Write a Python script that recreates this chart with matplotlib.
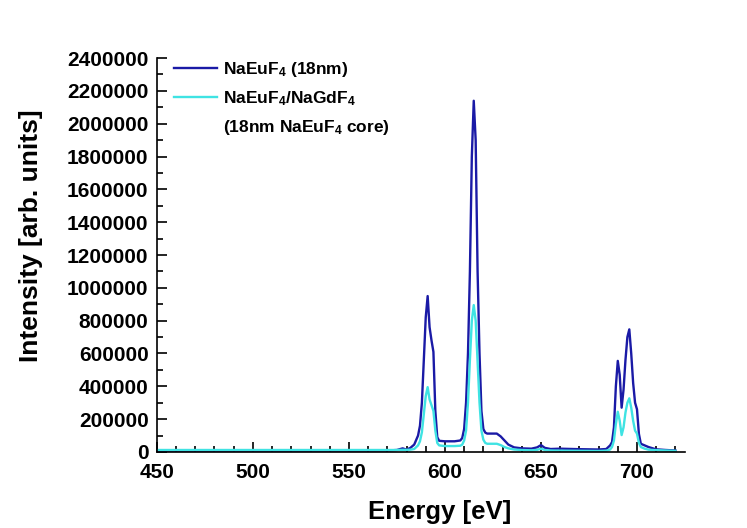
import matplotlib.pyplot as plt
from matplotlib.lines import Line2D
from matplotlib.ticker import MultipleLocator, FormatStrFormatter

plt.rcParams['font.family'] = 'Liberation Sans'
plt.rcParams['font.weight'] = 'bold'
plt.rcParams['mathtext.fontset'] = 'custom'
plt.rcParams['mathtext.rm'] = 'Liberation Sans:bold'
plt.rcParams['mathtext.bf'] = 'Liberation Sans:bold'
plt.rcParams['mathtext.default'] = 'rm'

# emission spectra
energy = [450, 500, 550, 570, 575, 578, 580, 582, 584, 586, 587, 588, 589, 590,
          591, 592, 593, 594, 595, 596, 597, 600, 605, 608, 609, 610, 611, 612,
          613, 614, 615, 616, 617, 618, 619, 620, 621, 622, 627, 629, 631, 633,
          636, 640, 645, 648, 650, 652, 655, 660, 670, 680, 684, 686, 687, 688,
          689, 690, 691, 692, 693, 694, 695, 696, 697, 698, 699, 700, 701, 702,
          704, 706, 710, 715, 720]
core = [8000, 8000, 8000, 9000, 12000, 22000, 14000, 25000, 45000, 100000,
        160000, 300000, 560000, 820000, 950000, 760000, 680000, 610000, 250000,
        90000, 68000, 65000, 65000, 70000, 85000, 140000, 300000, 600000,
        1100000, 1800000, 2140000, 1900000, 1100000, 600000, 250000, 140000,
        118000, 112000, 112000, 95000, 70000, 45000, 28000, 22000, 20000, 28000,
        42000, 25000, 18000, 20000, 17000, 15000, 18000, 40000, 60000, 150000,
        400000, 555000, 470000, 270000, 380000, 560000, 700000, 747000, 600000,
        420000, 300000, 260000, 110000, 50000, 40000, 30000, 16000, 12000, 9000]
shell = [12000, 12000, 12000, 12000, 12000, 13000, 13000, 14000, 18000, 40000,
         65000, 120000, 230000, 340000, 395000, 320000, 285000, 250000, 130000,
         55000, 40000, 36000, 36000, 38000, 45000, 70000, 130000, 300000,
         560000, 800000, 895000, 800000, 550000, 300000, 130000, 75000, 55000,
         50000, 50000, 42000, 30000, 22000, 15000, 12000, 10000, 13000, 20000,
         12000, 9000, 8000, 7000, 6000, 8000, 15000, 30000, 70000, 170000,
         245000, 190000, 103000, 150000, 240000, 300000, 327000, 270000, 190000,
         130000, 112000, 55000, 30000, 20000, 14000, 11000, 9000, 7000]

fig = plt.figure(figsize=(7.47, 5.28), dpi=100)
ax = fig.add_axes([0.21, 0.144, 0.707, 0.746])

ax.plot(energy, core, color='#1a1aa6', linewidth=1.7)
ax.plot(energy, shell, color='#3fe3e3', linewidth=1.7)

ax.set_xlim(450, 725)
ax.set_ylim(0, 2400000)
ax.xaxis.set_major_locator(MultipleLocator(50))
ax.xaxis.set_minor_locator(MultipleLocator(10))
ax.yaxis.set_major_locator(MultipleLocator(200000))
ax.yaxis.set_minor_locator(MultipleLocator(100000))
ax.yaxis.set_major_formatter(FormatStrFormatter('%d'))

ax.spines['top'].set_visible(False)
ax.spines['right'].set_visible(False)
ax.spines['left'].set_linewidth(1.2)
ax.spines['bottom'].set_linewidth(1.2)
ax.tick_params(which='both', direction='in', width=1.2, labelsize=15, pad=6)
ax.tick_params(axis='x', which='both', pad=8)
ax.tick_params(which='major', length=7)
ax.tick_params(which='minor', length=4)

ax.set_xlabel('Energy [eV]', fontsize=18.5, fontweight='bold')
ax.xaxis.set_label_coords(0.536, -0.122)
ax.set_ylabel('Intensity [arb. units]', fontsize=19, fontweight='bold')
ax.yaxis.set_label_coords(-0.216, 0.548)

# legend, third row is the rest of the second label
handles = [Line2D([], [], color='#1a1aa6', linewidth=1.7),
           Line2D([], [], color='#3fe3e3', linewidth=1.7),
           Line2D([], [], color='none')]
labels = ['NaEuF$_4$ (18nm)', 'NaEuF$_4$/NaGdF$_4$', '(18nm NaEuF$_4$ core)']
ax.legend(handles, labels, loc='upper left', bbox_to_anchor=(0.002, 1.035),
          frameon=False, fontsize=12.5, handlelength=2.5, handletextpad=0.35,
          labelspacing=0.6)

fig.savefig('out.png', dpi=100)
